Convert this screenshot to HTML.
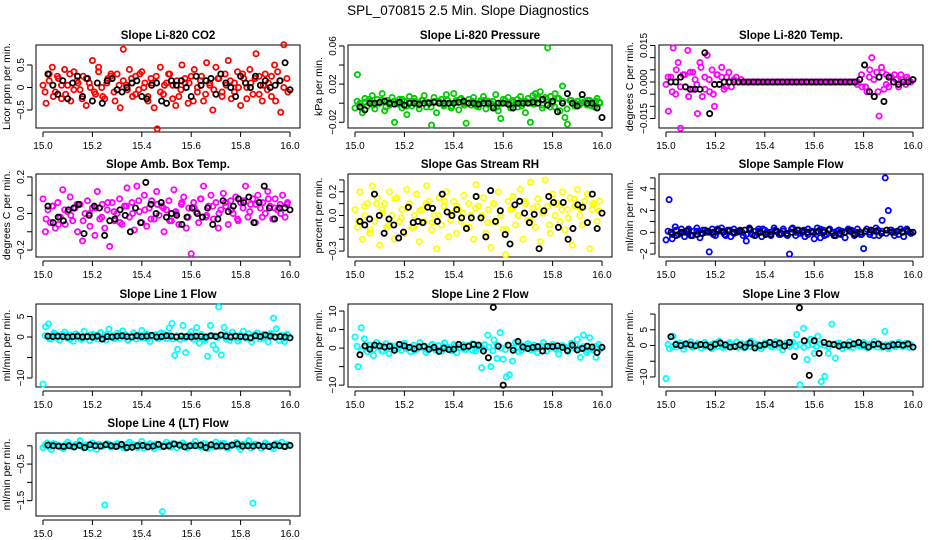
<!DOCTYPE html>
<html><head><meta charset="utf-8"><style>
html,body{margin:0;padding:0;background:#fff;}
svg{display:block;font-family:"Liberation Sans",Arial,sans-serif;}
</style></head><body>
<svg id="chart" width="936" height="540" viewBox="0 0 936 540" xmlns="http://www.w3.org/2000/svg">
<rect width="936" height="540" fill="#fff"/>
<text x="468" y="15" text-anchor="middle" font-size="13.5">SPL_070815  2.5 Min. Slope Diagnostics</text>
</svg>
<script>
// ---------- data ----------
const panelTitles = ["Slope Li-820 CO2","Slope Li-820 Pressure","Slope Li-820 Temp.","Slope Amb. Box Temp.","Slope Gas Stream RH","Slope Sample Flow","Slope Line 1 Flow","Slope Line 2 Flow","Slope Line 3 Flow","Slope Line 4 (LT) Flow"];
const yAxisTitles = ["Licor ppm per min.","kPa per min.","degrees C per min.","degrees C per min.","percent per min.","ml/min per min.","ml/min per min.","ml/min per min.","ml/min per min.","ml/min per min."];
const xTickValues = [15.0,15.2,15.4,15.6,15.8,16.0];
const xTickLabels = ["15.0","15.2","15.4","15.6","15.8","16.0"];
const yTicks = [[-0.5,0,0.5],[-0.02,0,0.02,0.04,0.06],[-0.015,-0.01,-0.005,0,0.005,0.01,0.015],[-0.2,-0.1,0,0.1,0.2],[-0.3,-0.2,-0.1,0,0.1,0.2,0.3],[-2,-1,0,1,2,3,4,5],[-10,-5,0,5],[-10,-5,0,5,10],[-10,-5,0,5,10],[-1.5,-1,-0.5,0]];
const yTickLabels = [["-0.5","0","0.5"],["-0.02","","0.02","","0.06"],["-0.015","","","0.000","","","0.015"],["-0.2","","0.0","","0.2"],["-0.3","","","0.0","","0.2",""],["-2","","0","","2","","4",""],["-10","","0","5"],["-10","","0","5","10"],["-10","","0","5",""],["-1.5","","-0.5",""]];
const yDomains = [[-0.9,0.944],[-0.026,0.061],[-0.0189,0.0152],[-0.238,0.216],[-0.35,0.35],[-2.27,5.36],[-12.2,8.05],[-10.5,11.9],[-13.2,13.2],[-1.92,0.35]];
const seriesColors = ["#ff0000","#00cc00","#ff00ff","#ff00ff","#ffff00","#0000ff","#00ffff","#00ffff","#00ffff","#00ffff"];

const co2Color = [0.05,-0.35,0.3,0.45,-0.1,0.2,-0.25,0.4,0.05,-0.3,0.35,0.15,-0.05,0.25,-0.4,0.1,0.6,-0.15,0.45,0.0,-0.25,0.2,0.3,-0.1,0.3,-0.45,0.85,0.05,0.4,-0.2,0.25,-0.05,0.35,0.1,-0.3,0.2,-0.45,-0.92,0.45,-0.15,0.1,0.3,0.05,-0.4,-0.2,0.5,0.1,-0.35,0.25,0.4,-0.1,0.15,-0.3,0.55,0.05,-0.5,0.45,0.2,-0.1,0.3,0.6,-0.25,0.1,0.35,-0.4,0.2,0.0,0.4,-0.15,0.75,0.25,-0.3,0.3,0.1,-0.2,0.5,0.35,-0.55,0.95,0.2];
const co2Fill = [-0.1,0.15,-0.2,0.25,0.05,-0.15,0.3,-0.05,0.1,-0.25,0.2,0.0,-0.1,0.35,-0.2,0.1,0.25,-0.3,0.05,0.15,-0.05,0.2,-0.15,0.3,0.0,-0.2,0.1,0.25,-0.1,0.05,0.3,-0.25,0.15,-0.05,0.2,0.1,-0.3,0.0,0.25,-0.15,0.1,-0.05,0.2,-0.2,0.05,0.15,-0.1,0.0,0.3,-0.25,0.1,0.2,-0.15,0.05,-0.05,0.25,-0.3,0.15,0.0,-0.1];
const co2Black = [0.3,0.05,-0.15,0.15,-0.25,0.1,0.25,-0.2,0.2,-0.3,0.1,-0.35,0.15,0.2,-0.05,-0.1,0.0,0.1,0.15,-0.2,-0.25,0.05,0.1,-0.3,-0.35,0.15,0.05,0.15,0.0,-0.2,0.25,0.05,0.15,0.2,-0.15,0.3,0.1,0.0,-0.2,0.25,0.1,0.0,0.25,0.05,0.15,0.0,0.05,0.15,0.55,-0.05];
const presColor = [-0.005,0.03,0.0,-0.01,0.005,-0.003,0.002,0.008,-0.006,0.004,0.0,0.01,-0.008,0.003,-0.002,0.006,-0.02,0.0,0.004,-0.005,0.002,-0.012,0.007,-0.003,0.005,0.0,-0.006,0.003,0.008,-0.004,0.001,-0.023,0.006,-0.01,0.002,0.004,-0.003,0.009,0.0,-0.005,0.01,0.003,-0.007,0.005,0.0,-0.021,0.004,-0.002,0.006,0.0,-0.004,0.003,0.007,-0.006,0.002,0.0,-0.003,0.009,-0.008,-0.016,0.004,0.0,0.006,-0.005,0.003,0.0,-0.004,0.007,0.002,-0.01,0.005,-0.02,0.008,0.01,0.004,0.012,-0.002,0.006,0.058,-0.004,0.0,0.01,0.005,-0.008,0.018,-0.015,-0.022,0.003,0.0,-0.003,0.002,-0.001,0.004,0.001,-0.002,0.003,0.0,-0.004,0.005,0.001];
const presFill = [0.002,-0.003,0.001,0.004,-0.002,0.0,0.003,-0.004,0.001,0.002,-0.001,0.004,-0.003,0.0,0.002,-0.002,0.003,0.001,-0.004,0.002,0.0,-0.001,0.003,-0.003,0.001,0.004,-0.002,0.0,0.002,-0.003,0.001,0.003,-0.001,0.002,-0.004,0.0,0.003,-0.002,0.001,0.004,-0.003,0.002,0.0,-0.001,0.006,-0.005,0.004,0.007,-0.004,0.005,0.002,-0.006,0.003,0.0,-0.002,0.001,0.003,-0.003,0.002,0.0];
const presBlack = [-0.004,-0.007,0.0,0.0,0.001,0.002,0.0,-0.001,0.001,-0.002,0.0,0.0,-0.001,0.0,0.0,0.001,0.0,0.0,0.0,0.0,0.001,0.002,0.0,0.0,-0.001,0.0,0.0,-0.005,0.0,0.0,-0.001,-0.005,0.0,0.0,0.0,0.001,0.0,0.004,-0.002,0.002,-0.009,0.0,0.01,0.0,-0.003,0.009,0.0,0.0,-0.005,-0.015];
const tempColor = [-0.001,-0.012,0.002,0.014,-0.005,0.008,-0.019,0.003,-0.002,0.013,0.004,-0.003,0.001,-0.013,0.008,-0.006,0.002,0.011,-0.004,0.005,-0.01,0.003,-0.001,0.006,-0.003,0.002,0.004,-0.002,0.001,0.002,0.0,0.001,0.0,0.0,0.0,0.0,0.0,0.0,0.0,0.0,0.0,0.0,0.0,0.0,0.0,0.0,0.0,0.0,0.0,0.0,0.0,0.0,0.0,0.0,0.0,0.0,0.0,0.0,0.0,0.0,0.0,0.0,0.0,0.0,0.0,0.0,0.0,0.0,0.0,0.0,0.0,0.0,0.0,0.0,0.0,0.0,0.0,0.0,0.0,-0.001,0.001,-0.002,0.007,-0.004,0.002,0.01,-0.006,0.004,-0.014,0.006,-0.003,0.003,-0.002,0.002,0.0,0.001,-0.001,0.003,0.0,-0.001,0.001,0.0];
const tempFill = [0.002,-0.004,0.005,-0.002,0.003,-0.006,0.004,-0.001,0.006,-0.003,0.001,-0.005,0.003,0.002,-0.002,0.0,0.0,0.0,0.0,0.0,0.0,0.0,0.0,0.0,0.0,0.0,0.0,0.0,0.0,0.0,0.0,0.0,0.0,0.0,0.0,0.0,0.0,0.0,0.0,0.0,0.0,0.0,0.0,0.0,0.0,0.0,0.0,0.003,-0.002,0.005,0.001,-0.004,0.004,-0.001,0.002,0.003,-0.002,0.001,0.002,0.0];
const tempBlack = [0.0,0.0,0.002,-0.002,-0.003,-0.003,-0.003,0.012,-0.013,-0.001,-0.001,0.0,0.0,0.0,0.0,0.0,0.0,0.0,0.0,0.0,0.0,0.0,0.0,0.0,0.0,0.0,0.0,0.0,0.0,0.0,0.0,0.0,0.0,0.0,0.0,0.0,0.0,0.0,0.0,0.001,0.007,-0.004,-0.006,0.002,-0.008,0.002,0.0,-0.001,0.0,0.0,0.001];
const ambColor = [0.08,-0.1,0.02,-0.05,0.04,-0.08,0.06,-0.02,0.13,-0.06,0.01,0.09,-0.04,0.03,-0.1,0.05,-0.15,0.0,0.07,-0.07,0.03,-0.12,0.12,-0.03,0.05,-0.08,0.02,-0.18,0.06,-0.04,0.0,0.08,-0.06,0.04,0.14,-0.02,0.06,-0.09,0.15,0.01,-0.05,0.1,-0.07,0.03,0.07,-0.03,0.12,-0.01,0.04,-0.1,0.02,0.07,-0.04,0.13,0.0,-0.06,0.05,0.09,-0.08,0.03,-0.22,0.06,0.01,-0.05,0.08,0.15,-0.02,0.04,0.1,-0.03,0.06,-0.08,0.02,0.11,0.04,-0.06,0.07,0.0,0.09,-0.04,0.06,0.03,0.15,-0.02,0.05,0.08,-0.05,0.1,0.03,0.06,0.0,0.12,0.04,-0.03,0.08,0.02,0.05,0.1,-0.02,0.06];
const ambFill = [-0.03,0.04,-0.06,0.02,-0.01,0.05,-0.04,0.0,0.03,-0.02,0.06,0.01,-0.05,0.04,0.0,0.07,0.02,-0.03,0.05,0.03,-0.04,0.01,0.06,-0.02,0.03,0.08,-0.01,0.04,0.0,0.06,0.02,-0.03,0.07,0.01,0.05,-0.02,0.08,0.03,0.0,0.05];
const ambBlack = [0.04,-0.05,-0.02,-0.04,0.02,0.03,0.05,-0.11,-0.01,0.04,0.03,-0.12,-0.04,-0.03,0.02,-0.01,-0.1,0.03,-0.05,0.17,0.05,0.0,0.06,-0.02,0.0,-0.01,-0.06,-0.02,0.03,0.0,-0.02,0.03,-0.06,-0.03,0.07,0.01,0.04,0.08,0.06,0.09,-0.05,0.06,0.15,0.03,-0.03,0.03,0.03,0.02];
const rhColor = [0.05,-0.1,0.2,-0.2,0.0,0.1,-0.15,0.25,-0.05,0.15,-0.25,0.05,0.1,-0.1,0.2,0.0,-0.2,0.15,-0.05,0.05,-0.15,0.22,0.1,-0.1,0.0,0.18,-0.22,0.05,-0.05,0.25,0.12,-0.12,0.0,-0.28,0.15,-0.08,0.08,0.2,-0.18,0.02,0.12,-0.15,0.05,-0.05,0.17,-0.1,0.1,0.0,-0.2,0.26,0.08,-0.02,0.15,-0.15,0.05,-0.27,0.1,-0.06,0.2,0.0,-0.12,-0.33,0.12,0.05,0.16,-0.08,0.0,0.22,-0.2,0.1,-0.04,0.28,0.06,-0.1,0.14,-0.22,0.02,0.3,0.08,-0.15,0.18,0.0,0.1,-0.05,0.2,-0.12,0.05,0.15,-0.25,0.08,0.22,0.0,-0.08,0.12,0.18,-0.28,0.05,0.1,-0.05,0.12];
const rhFill = [-0.05,0.08,-0.12,0.1,0.02,-0.08,0.14,-0.02,0.06,-0.1,0.04,0.1,-0.06,0.0,0.12,-0.04,0.08,0.02,-0.1,0.06,0.0,-0.06,0.1,0.04,-0.12,0.06,0.0,0.12,-0.04,0.08,0.02,-0.08,0.1,0.05,-0.02,0.14,0.06,-0.06,0.1,0.04];
const rhBlack = [-0.05,-0.08,-0.03,0.18,0.0,-0.15,-0.03,-0.08,-0.19,-0.14,0.07,-0.06,-0.05,-0.06,0.07,0.06,-0.05,0.18,0.03,0.0,0.05,-0.02,-0.11,-0.02,0.16,-0.02,-0.18,0.21,-0.05,0.04,-0.16,-0.24,0.09,0.12,0.02,-0.06,0.01,-0.28,0.04,0.16,0.11,-0.1,0.11,-0.2,-0.11,0.09,0.07,-0.06,0.18,-0.11,0.02];
const sampleColor = [-0.7,3.0,-0.6,0.5,-0.2,0.3,-0.4,0.2,-0.3,0.1,0.4,-0.5,0.2,0.0,-1.8,0.3,-0.3,0.1,0.4,-0.2,0.2,-0.4,0.3,0.0,0.2,-0.3,-0.8,0.4,-0.2,0.1,0.3,-0.4,0.2,0.0,-0.3,0.4,0.1,-0.2,0.3,-0.2,-2.0,0.4,-0.3,0.2,0.0,-0.4,0.3,0.1,-0.6,0.4,-0.5,0.2,-0.2,0.3,0.0,-0.3,0.2,0.1,-0.5,0.3,0.2,-0.3,0.0,-0.2,-1.5,0.3,-0.2,0.1,0.4,-0.3,1.1,5.0,2.0,0.2,-0.3,0.1,0.3,-0.4,0.2,0.0];
const sampleFill = [0.1,-0.2,0.2,-0.1,0.0,0.3,-0.3,0.1,-0.1,0.2,0.0,-0.2,0.3,0.1,-0.3,0.2,-0.1,0.1,0.0,-0.2,0.2,-0.3,0.1,0.3,-0.1,0.0,0.2,-0.2,0.1,-0.3,0.3,0.0,-0.1,0.2,-0.2,0.1,0.0,0.3,-0.3,0.2,-0.1,0.1,-0.2,0.0,0.2,-0.1,0.3,-0.2,0.1,0.0,-0.3,0.2,0.1,-0.1,0.2,0.0,-0.2,0.1,0.3,-0.1];
const sampleBlack = [0.0,-0.3,0.0,0.1,-0.3,-0.2,-0.1,0.1,0.0,0.2,0.0,0.1,0.0,0.1,0.2,0.3,-0.3,0.0,-0.2,-0.2,0.1,-0.1,-0.1,0.0,0.2,0.1,0.0,0.0,0.1,0.0,0.2,-0.3,-0.1,0.0,0.1,-0.2,0.0,0.1,0.2,0.1,-0.1,0.2,0.0,0.1,0.0,0.1,0.0];
const line1Color = [-11.5,2.5,3.2,-0.5,1.0,0.3,-0.8,0.6,1.2,-0.3,0.5,-1.0,0.8,0.2,-0.6,1.4,0.0,-0.9,0.7,0.4,-0.5,1.1,0.2,-0.7,1.9,0.3,-0.4,0.9,-0.2,1.5,0.6,-0.8,0.1,1.0,-0.5,0.4,1.6,-0.3,0.7,-1.1,0.2,0.5,-0.4,1.0,0.8,-0.4,2.2,3.3,-4.5,-3.0,-0.6,2.8,-3.8,0.4,1.3,-0.6,2.3,-1.5,0.4,-0.8,-4.7,2.8,-2.0,-3.0,7.3,-4.4,2.3,0.6,-0.8,1.2,0.0,-1.0,0.5,1.4,-0.3,0.8,-1.2,0.3,1.0,-0.5,0.6,-0.2,-1.2,0.9,4.6,2.0,-0.8,0.4,-1.1,0.7];
const line1Fill = [0.3,-0.4,0.6,-0.2,0.2,0.5,-0.6,0.1,0.4,-0.3,0.0,0.5,-0.2,0.3,-0.5,0.6,0.1,-0.3,0.4,0.0,-0.6,0.3,0.2,-0.1,0.5,-0.4,0.2,0.6,-0.2,0.0,0.4,-0.5,0.3,0.1,-0.3,0.5,0.0,-0.2,0.6,-0.4,0.2,0.3,-0.1,0.5,-0.5,0.1,0.4,-0.3,0.2,0.0,-0.4,0.6,0.1,-0.2,0.3,0.5,-0.1,0.2,-0.3,0.4];
const line1Black = [0.2,0.1,0.2,0.1,0.0,0.1,0.2,0.0,0.1,0.0,0.2,-0.5,0.1,0.0,0.2,0.3,0.1,0.0,0.3,0.1,0.2,0.4,0.0,0.1,0.3,0.2,0.0,0.2,0.1,0.0,0.2,0.1,0.0,0.3,0.1,0.5,0.2,0.0,0.2,0.1,0.0,-0.2,0.3,0.1,0.5,0.2,0.0,0.1,0.0,-0.2];
const line2Color = [3.0,-5.0,5.5,2.5,-1.0,0.8,-2.0,1.5,0.3,-0.8,1.2,-1.5,0.6,0.0,1.0,-0.6,1.3,0.2,-1.0,0.8,-0.3,1.5,0.5,-1.2,0.0,1.0,-0.5,0.7,-0.9,1.4,0.3,-0.6,1.0,-1.3,0.2,0.9,-0.4,0.6,1.2,-0.8,0.3,-5.3,1.0,3.5,-5.0,2.2,-2.8,4.2,-3.0,-7.8,-7.2,-3.5,1.6,-1.0,0.6,0.0,1.2,-0.5,0.8,-1.2,0.4,1.5,-0.8,0.2,1.0,-0.3,-1.6,0.7,0.3,-0.9,1.3,0.0,2.3,-2.5,3.5,-1.2,2.8,-0.5,-2.5,1.0];
const line2Fill = [0.5,-0.6,0.2,0.8,-0.3,0.4,-0.8,0.1,0.6,-0.4,0.0,0.7,-0.2,0.3,-0.7,0.5,0.2,-0.4,0.8,0.0,-0.5,0.4,0.1,-0.8,0.6,0.2,-0.3,0.7,-0.6,0.0,0.5,-0.2,0.3,-0.7,0.8,0.1,-0.4,0.6,-0.1,0.2,-0.6,0.4,0.7,-0.3,0.0,0.5,-0.8,0.3,0.1,-0.2,0.6,-0.5,0.2,0.8,-0.1,0.4,-0.6,0.0,0.5,-0.3];
const line2Black = [-1.8,0.6,-0.3,0.8,0.6,0.3,0.5,-0.6,1.0,0.6,0.2,-0.2,0.3,0.5,-0.3,0.2,-0.9,0.0,-0.4,-0.3,1.0,0.3,0.5,1.0,0.8,-0.8,-2.6,11.0,0.5,-10.0,0.8,-0.6,1.8,0.3,-0.1,0.2,0.4,-0.8,0.5,0.4,0.6,0.2,-0.7,0.8,-0.5,-0.1,0.5,0.3,-1.2,0.2];
const line3Color = [-10.5,-1.0,3.0,-0.5,0.8,-1.2,0.4,1.2,-0.3,0.6,-0.8,1.0,0.2,-1.0,0.5,1.3,-0.6,0.3,0.9,-0.4,1.1,0.0,-0.7,0.6,1.4,-0.2,0.4,-1.0,0.8,0.2,-0.5,1.2,0.3,-1.4,0.7,-0.3,1.0,3.5,-12.5,5.5,-4.5,2.0,-2.5,3.0,-11.5,-9.8,-2.5,6.8,-4.0,0.8,-1.0,0.3,1.2,-0.6,0.5,-0.2,1.0,-0.8,0.4,1.3,-0.5,0.2,4.5,-1.0,0.6,-0.4,1.0,0.0,0.7,-0.6];
const line3Fill = [0.3,-0.4,0.6,0.0,-0.2,0.5,-0.6,0.2,0.4,-0.3,0.1,0.6,-0.2,0.3,-0.5,0.4,0.0,-0.6,0.5,0.2,-0.3,0.6,0.1,-0.4,0.3,-0.1,0.5,-0.5,0.2,0.0,0.6,-0.2,0.4,-0.6,0.1,0.3,-0.3,0.5,0.0,-0.4,0.2,0.6,-0.1,0.3,-0.5,0.4,0.1,-0.2,0.5,-0.3,0.0,0.4,-0.6,0.2,0.3,-0.1,0.5,-0.4,0.1,0.2];
const line3Black = [2.8,0.3,0.0,0.5,0.2,-0.1,0.3,0.2,-0.5,0.4,0.8,0.2,-0.5,-0.3,0.2,-0.5,0.8,-0.8,0.0,0.3,1.0,0.3,0.8,-0.2,1.0,-3.5,12.0,1.5,-9.5,1.5,-2.5,1.0,0.5,0.3,-0.2,0.2,0.1,0.5,1.0,0.2,-0.5,0.3,0.5,-0.3,-0.2,0.2,0.3,0.1,0.5,-0.5];
const line4Color = [-0.05,0.08,-0.1,0.05,0.0,-0.08,0.1,-0.03,0.04,0.14,-0.06,0.02,0.08,-0.1,0.02,-1.62,0.05,-0.02,0.06,0.0,-0.07,0.1,0.03,-0.05,0.12,0.0,0.06,-0.08,0.02,-1.8,0.1,-0.04,0.05,0.03,0.08,-0.06,0.0,0.12,-0.02,0.06,-0.08,0.04,0.1,-0.03,0.07,-0.06,0.02,0.09,-0.1,0.05,0.14,-1.57,0.03,-0.06,0.08,0.0,-0.08,0.05,0.1,-0.02];
const line4Fill = [0.02,-0.04,0.06,0.0,-0.05,0.04,0.01,-0.03,0.05,-0.02,0.03,-0.06,0.0,0.04,-0.01,0.06,-0.04,0.02,0.0,-0.05,0.05,0.01,-0.02,0.04,-0.06,0.03,0.0,0.05,-0.03,0.02,-0.01,0.06,-0.05,0.0,0.03,-0.02,0.04,0.01,-0.04,0.05,0.0,-0.03,0.02,0.06,-0.05,0.01,0.03,-0.02,0.04,0.0,-0.06,0.05,0.02,-0.01,0.03,-0.04,0.06,0.0,-0.02,0.04];
const line4Black = [0.02,0.0,-0.01,-0.02,0.0,-0.03,0.01,-0.05,0.03,0.0,-0.01,0.03,0.0,-0.02,0.04,-0.05,-0.04,0.0,0.01,-0.03,-0.01,0.04,-0.02,0.0,0.05,0.02,-0.03,0.0,0.0,0.02,-0.05,0.03,-0.01,0.0,-0.02,0.02,0.05,-0.01,0.0,-0.01,0.01,-0.01,-0.02,0.02,0.0,-0.02,0.01];
const colorSeries = [co2Color,presColor,tempColor,ambColor,rhColor,sampleColor,line1Color,line2Color,line3Color,line4Color];
const fillSeries = [co2Fill,presFill,tempFill,ambFill,rhFill,sampleFill,line1Fill,line2Fill,line3Fill,line4Fill];
const blackSeries = [co2Black,presBlack,tempBlack,ambBlack,rhBlack,sampleBlack,line1Black,line2Black,line3Black,line4Black];

// ---------- layout ----------
const NS = "http://www.w3.org/2000/svg";
const svg = document.getElementById('chart');
const colLeft = [36, 348, 659], rowTop = [45, 174, 304, 433];
const boxW = 264, boxH = 83;
function mk(tag, attrs, parent) {
  const e = document.createElementNS(NS, tag);
  for (const k in attrs) e.setAttribute(k, attrs[k]);
  (parent || svg).appendChild(e);
  return e;
}
function fmt(s){ return s.replace(/^-/, "\u2212"); }

panelTitles.forEach((title, p) => {
  const L = colLeft[p % 3], T = rowTop[Math.floor(p / 3)];
  const g = mk('g', {});
  
  
  const xs = t => L + 7 + (t - 15) * 247;
  const [y0, y1] = yDomains[p];
  const ys = v => T + boxH - (v - y0) / (y1 - y0) * boxH;

  const box = mk('rect', {x: L, y: T, width: boxW, height: boxH, fill: 'none', stroke: '#000', 'stroke-width': 1}, g);
  
  
  const tt = mk('text', {x: L + boxW / 2, y: T - 6, 'text-anchor': 'middle', 'font-size': 11.5, 'font-weight': 'bold'}, g);
  tt.textContent = title;
  
  

  const xa = mk('g', {}, g);
  
  
  mk('line', {x1: xs(15), x2: xs(16), y1: T + boxH + 4, y2: T + boxH + 4, stroke: '#000'}, xa);
  xTickValues.forEach((v, i) => {
    mk('line', {x1: xs(v), x2: xs(v), y1: T + boxH + 4, y2: T + boxH + 9, stroke: '#000'}, xa);
    const lb = mk('text', {x: xs(v), y: T + boxH + 21, 'text-anchor': 'middle', 'font-size': 10}, xa);
    lb.textContent = xTickLabels[i];
    
    
  });

  const ya = mk('g', {}, g);
  
  
  const tk = yTicks[p];
  mk('line', {x1: L - 4, x2: L - 4, y1: ys(tk[0]), y2: ys(tk[tk.length - 1]), stroke: '#000'}, ya);
  tk.forEach((v, i) => {
    mk('line', {x1: L - 9, x2: L - 4, y1: ys(v), y2: ys(v), stroke: '#000'}, ya);
    if (yTickLabels[p][i]) {
      const lx = L - 12, ly = ys(v);
      const lb = mk('text', {x: lx, y: ly, 'text-anchor': 'middle', 'font-size': 10, transform: `rotate(-90 ${lx} ${ly})`}, ya);
      lb.textContent = fmt(yTickLabels[p][i]);
      
      
    }
  });
  const ax = L - 26, ay = T + boxH / 2;
  const yt = mk('text', {x: ax, y: ay, 'text-anchor': 'middle', 'font-size': 10.5, transform: `rotate(-90 ${ax} ${ay})`}, g);
  yt.textContent = yAxisTitles[p];
  
  

  const cg = mk('g', {fill: 'none', stroke: seriesColors[p], 'stroke-width': 1.8}, g);
  
  
  [colorSeries[p], fillSeries[p]].forEach((arr, k) => {
    arr.forEach((v, i) => {
      const t = 15 + (k * 0.5 + i) / arr.length;
      const c = mk('circle', {cx: xs(Math.min(t, 16)), cy: ys(v), r: 2.6}, cg);
      
      
    });
  });
  const bs = blackSeries[p];
  const bg = mk('g', {fill: 'none', stroke: '#000', 'stroke-width': 1.8}, g);
  
  
  bs.forEach((v, i) => {
    const t = 15.02 + 0.98 * i / (bs.length - 1);
    const c = mk('circle', {cx: xs(t), cy: ys(v), r: 2.6}, bg);
    
    
  });
});
</script>
</body></html>
